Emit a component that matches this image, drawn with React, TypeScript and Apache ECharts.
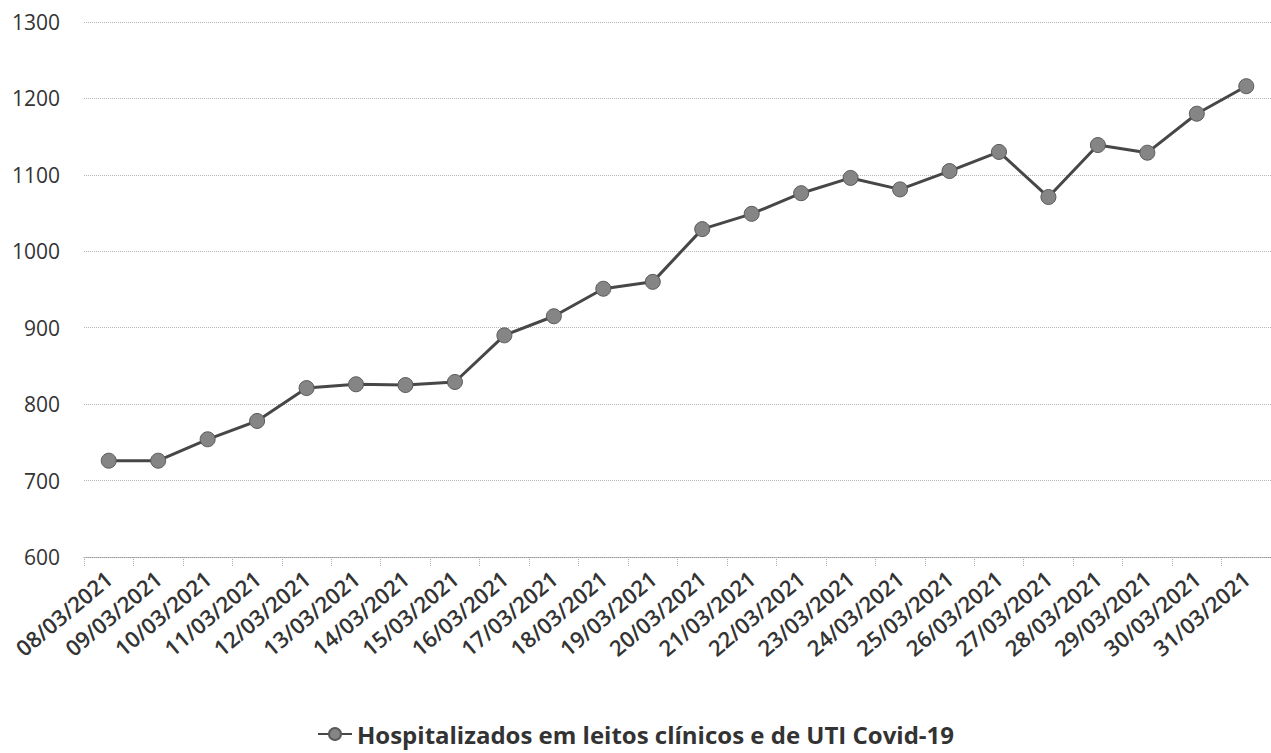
import React, { useEffect, useRef } from "react";
import * as echarts from "echarts";

const dates = [
  "08/03/2021", "09/03/2021", "10/03/2021", "11/03/2021", "12/03/2021", "13/03/2021",
  "14/03/2021", "15/03/2021", "16/03/2021", "17/03/2021", "18/03/2021", "19/03/2021",
  "20/03/2021", "21/03/2021", "22/03/2021", "23/03/2021", "24/03/2021", "25/03/2021",
  "26/03/2021", "27/03/2021", "28/03/2021", "29/03/2021", "30/03/2021", "31/03/2021",
];
const hospitalizados = [
  726, 726, 754, 778, 821, 826, 825, 829, 890, 915, 951, 960,
  1029, 1049, 1076, 1096, 1081, 1105, 1130, 1071, 1139, 1129, 1180, 1216,
];
const seriesName = "Hospitalizados em leitos clínicos e de UTI Covid-19";

export default function App() {
  const ref = useRef<HTMLDivElement>(null);
  useEffect(() => {
    const chart = echarts.init(ref.current!, null, { renderer: "svg" });
    chart.setOption({
      animation: false,
      backgroundColor: "#ffffff",
      textStyle: { fontFamily: "Open Sans" },
      grid: { left: 84, right: 0, top: 22, bottom: 196, containLabel: false },
      legend: {
        bottom: 2,
        left: "center",
        itemWidth: 34,
        itemHeight: 15,
        itemGap: 8,
        textStyle: { fontFamily: "Open Sans", fontSize: 24, fontWeight: "bold", color: "#333" },
        data: [seriesName],
      },
      xAxis: {
        type: "category",
        data: dates,
        boundaryGap: true,
        axisLine: { show: true, lineStyle: { color: "#999", type: "dotted", width: 1 } },
        axisTick: { show: true, length: 10, lineStyle: { color: "#aaa", type: "dotted" } },
        axisLabel: {
          interval: 0,
          rotate: 40,
          margin: 18,
          fontFamily: "Open Sans",
          fontSize: 22,
          fontWeight: 600,
          color: "#333",
        },
        splitLine: { show: false },
      },
      yAxis: {
        type: "value",
        min: 600,
        max: 1300,
        interval: 100,
        axisLine: { show: false },
        axisTick: { show: false },
        axisLabel: {
          fontFamily: "Open Sans",
          fontSize: 21,
          color: "#333",
          margin: 24,
          formatter: (v: number) => String(v),
        },
        splitLine: { show: true, lineStyle: { color: "#b5b5b5", type: "dotted", width: 1 } },
      },
      series: [
        {
          name: seriesName,
          type: "line",
          data: hospitalizados,
          symbol: "circle",
          symbolSize: 15,
          lineStyle: { color: "#474747", width: 3 },
          itemStyle: { color: "#858585", borderColor: "#5a5a5a", borderWidth: 1 },
        },
      ],
    });
    return () => chart.dispose();
  }, []);
  return (
    <div
      ref={ref}
      style={{ position: "fixed", left: 0, top: 0, width: 1271, height: 753 }}
    />
  );
}
